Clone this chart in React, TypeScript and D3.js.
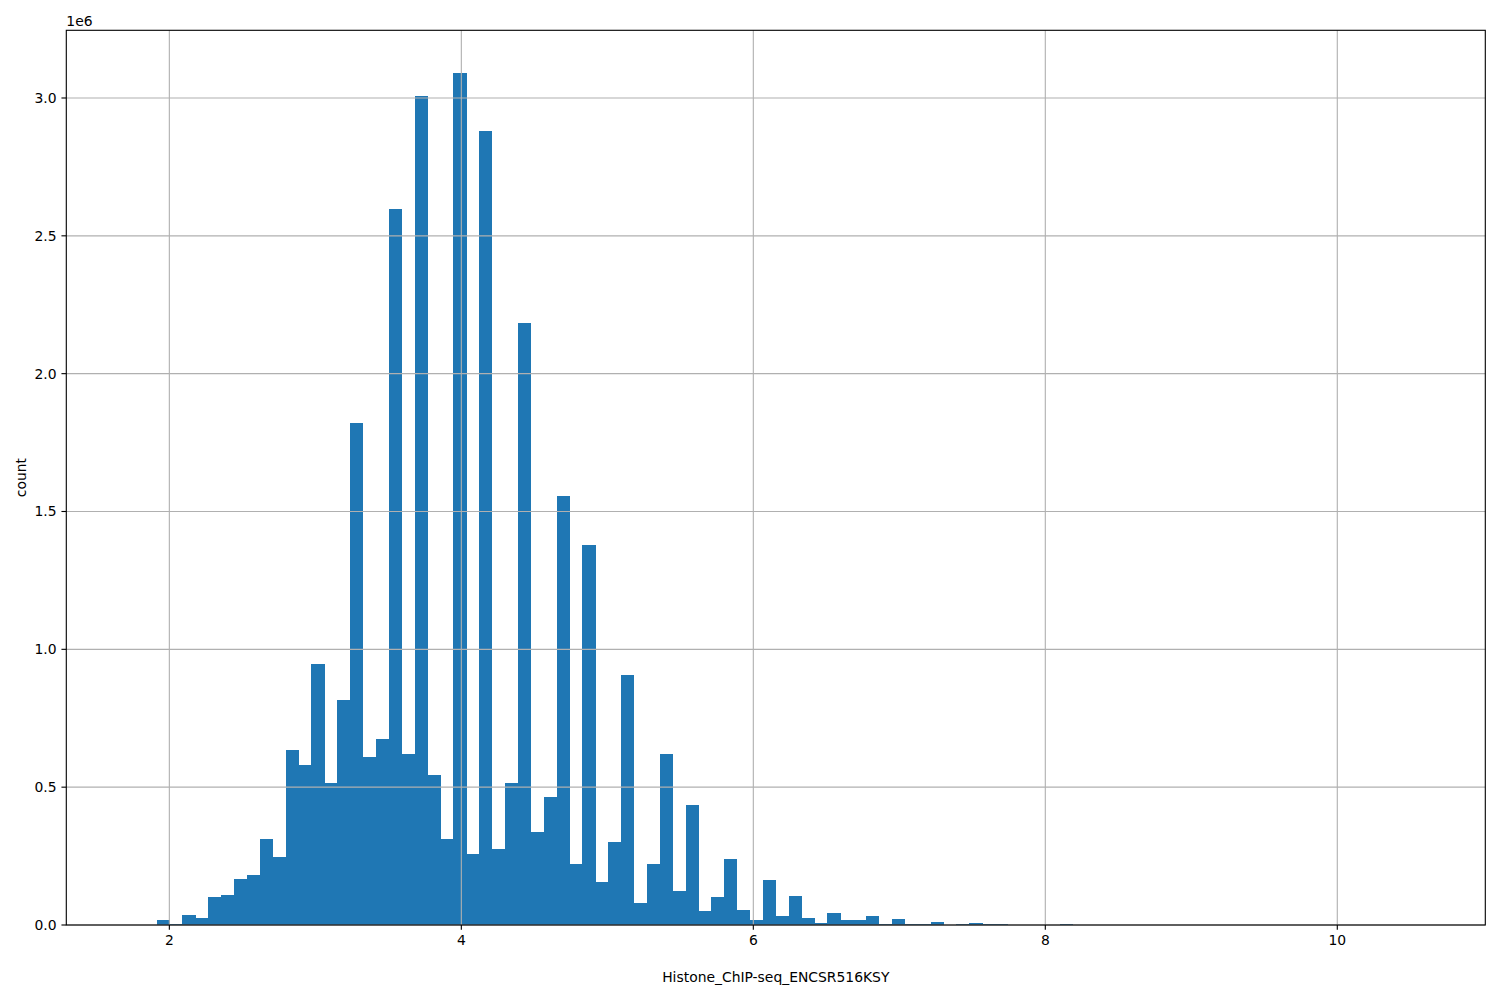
import React from "react";
import * as d3 from "d3";

// Histogram: 100 equal-width bins between the data min and max
const binMin = 1.736;
const binMax = 10.572;
const binCount = 100;

// counts per bin (in units of 1e6)
const counts: number[] = [
  0.0002, 0, 0.018, 0.004, 0.036, 0.025, 0.1, 0.109, 0.167, 0.181,
  0.312, 0.247, 0.635, 0.58, 0.947, 0.515, 0.816, 1.821, 0.609, 0.675,
  2.597, 0.62, 3.007, 0.544, 0.312, 3.091, 0.258, 2.88, 0.276, 0.515,
  2.184, 0.337, 0.464, 1.556, 0.221, 1.378, 0.156, 0.301, 0.907, 0.08,
  0.221, 0.62, 0.125, 0.435, 0.052, 0.1, 0.24, 0.054, 0.019, 0.163,
  0.033, 0.105, 0.025, 0.007, 0.044, 0.018, 0.018, 0.033, 0.0035, 0.022,
  0.0035, 0.0035, 0.011, 0, 0.0035, 0.007, 0.003, 0.0025, 0, 0,
  0, 0, 0.003, 0, 0, 0, 0, 0, 0, 0,
  0, 0, 0, 0, 0, 0, 0, 0, 0, 0,
  0, 0, 0, 0, 0, 0, 0, 0, 0, 0.0001,
];

const xTicks = [2, 4, 6, 8, 10];
const yTicks = [0, 0.5, 1.0, 1.5, 2.0, 2.5, 3.0];
const xLabel = "Histone_ChIP-seq_ENCSR516KSY";
const yLabel = "count";
const offsetText = "1e6";

const W = 1500;
const H = 1000;
const left = 66.3;
const right = 1485.3;
const top = 30.3;
const bottom = 925;
const FONT = "'DejaVu Sans', sans-serif";
const FS = 13.9;

export default function App() {
  const span = binMax - binMin;
  const x = d3
    .scaleLinear()
    .domain([binMin - 0.05 * span, binMax + 0.05 * span])
    .range([left, right]);
  const maxC = d3.max(counts) as number;
  const y = d3.scaleLinear().domain([0, maxC * 1.05]).range([bottom, top]);
  const bw = span / binCount;
  const bins = counts.map((c, i) => ({
    x0: binMin + i * bw,
    x1: binMin + (i + 1) * bw,
    c,
  }));

  return (
    <svg
      width={W}
      height={H}
      style={{ position: "absolute", left: 0, top: 0, background: "#fff" }}
      fontFamily={FONT}
    >
      <rect x={0} y={0} width={W} height={H} fill="#fff" />
      <g shapeRendering="crispEdges">
        {bins.map((b, i) =>
          b.c > 0 ? (
            <rect
              key={i}
              x={x(b.x0)}
              y={y(b.c)}
              width={x(b.x1) - x(b.x0) + 0.3}
              height={bottom - y(b.c)}
              fill="#1f77b4"
            />
          ) : null
        )}
      </g>
      {/* grid on top */}
      <g stroke="#b0b0b0" strokeWidth={1.11}>
        {xTicks.map((t) => (
          <line key={"gx" + t} x1={x(t)} x2={x(t)} y1={top} y2={bottom} />
        ))}
        {yTicks.map((t) => (
          <line key={"gy" + t} x1={left} x2={right} y1={y(t)} y2={y(t)} />
        ))}
      </g>
      {/* spines */}
      <rect
        x={left}
        y={top}
        width={right - left}
        height={bottom - top}
        fill="none"
        stroke="#000"
        strokeWidth={1.11}
      />
      {/* x ticks */}
      <g>
        {xTicks.map((t) => (
          <g key={"xt" + t}>
            <line x1={x(t)} x2={x(t)} y1={bottom} y2={bottom + 4.86} stroke="#000" strokeWidth={1.11} />
            <text x={x(t)} y={bottom + 9.7} dy="0.76em" textAnchor="middle" fontSize={FS} fill="#000">
              {String(t)}
            </text>
          </g>
        ))}
      </g>
      {/* y ticks */}
      <g>
        {yTicks.map((t) => (
          <g key={"yt" + t}>
            <line x1={left - 4.86} x2={left} y1={y(t)} y2={y(t)} stroke="#000" strokeWidth={1.11} />
            <text x={left - 9.7} y={y(t)} dy="0.35em" textAnchor="end" fontSize={FS} fill="#000">
              {t.toFixed(1)}
            </text>
          </g>
        ))}
      </g>
      <text x={left} y={top - 4.5} fontSize={FS} fill="#000">
        {offsetText}
      </text>
      <text
        x={(left + right) / 2}
        y={982}
        textAnchor="middle"
        fontSize={FS}
        fill="#000"
      >
        {xLabel}
      </text>
      <text
        transform={`translate(26, ${(top + bottom) / 2}) rotate(-90)`}
        textAnchor="middle"
        fontSize={FS}
        fill="#000"
      >
        {yLabel}
      </text>
    </svg>
  );
}
